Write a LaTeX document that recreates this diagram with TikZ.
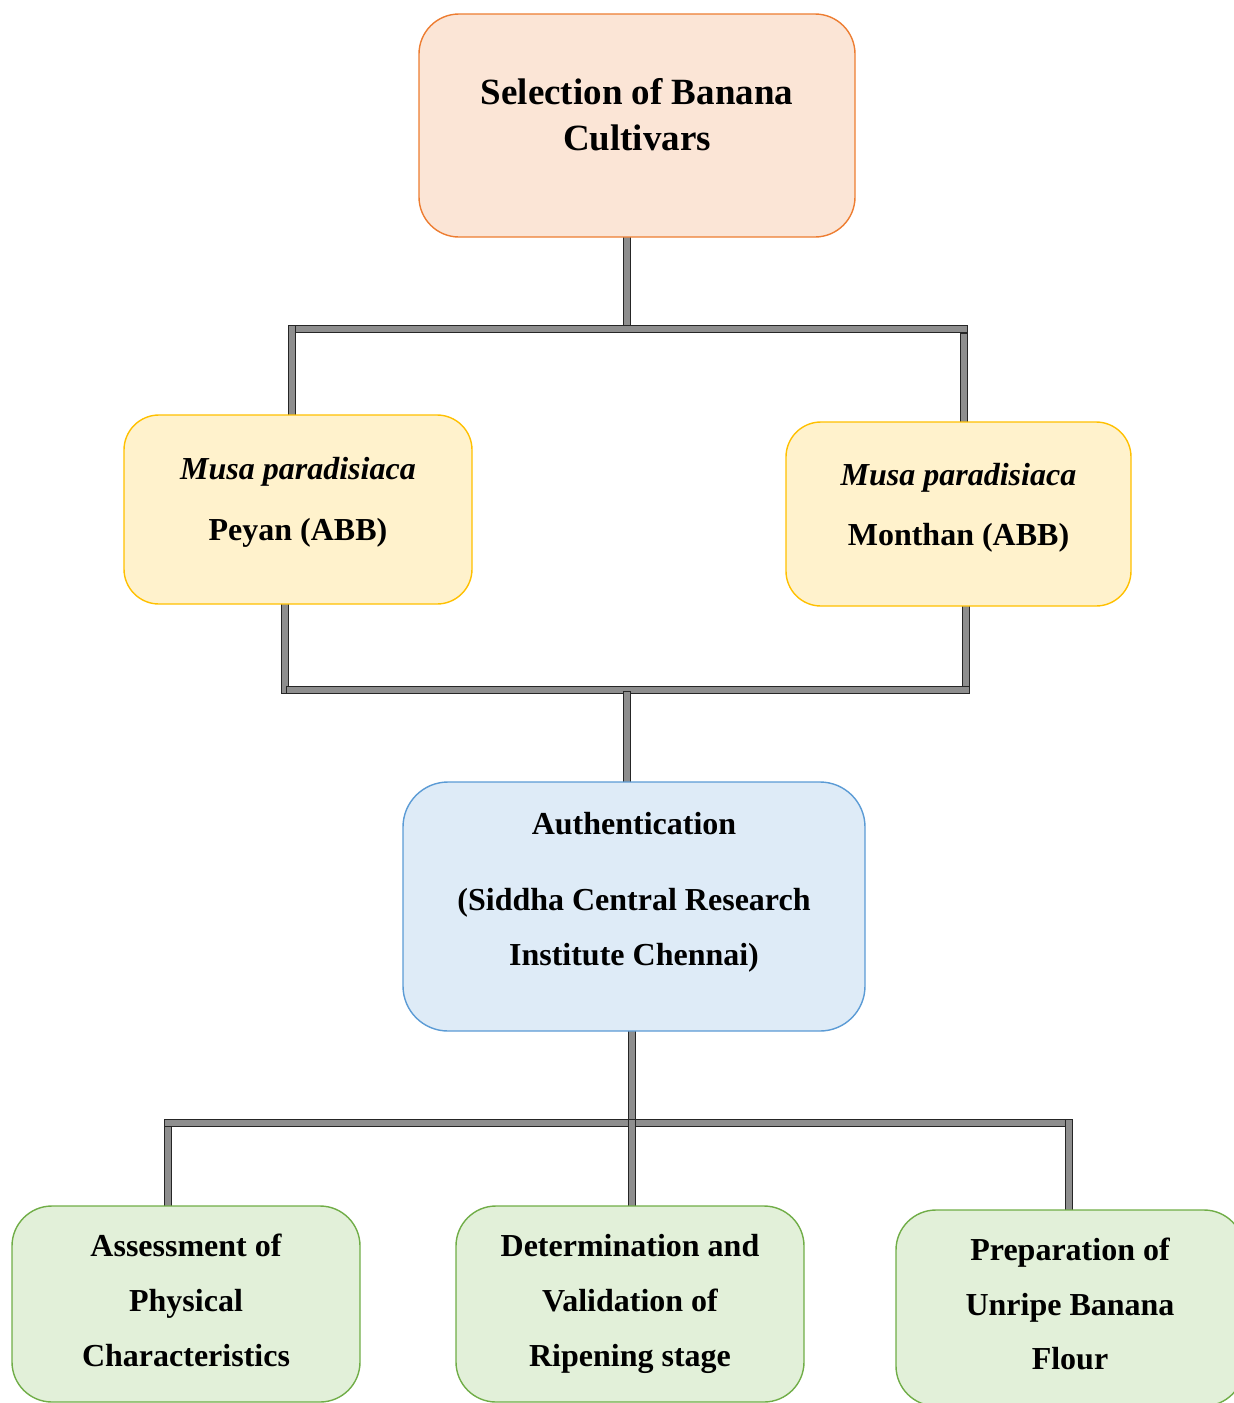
\documentclass[tikz,border=0pt]{standalone}
\usepackage{fontspec}
\setmainfont{Liberation Serif}
\usetikzlibrary{backgrounds}

\definecolor{selfill}{HTML}{FBE5D6}
\definecolor{seldraw}{HTML}{ED7D31}
\definecolor{cvfill}{HTML}{FFF2CC}
\definecolor{cvdraw}{HTML}{FFC000}
\definecolor{aufill}{HTML}{DEEBF7}
\definecolor{audraw}{HTML}{5B9BD5}
\definecolor{stfill}{HTML}{E2F0D9}
\definecolor{stdraw}{HTML}{70AD47}
\definecolor{barfill}{HTML}{8E8E8E}

\tikzset{
  box/.style={rectangle, line width=1.4pt, inner sep=0pt},
  selbox/.style={box, fill=selfill, draw=seldraw, rounded corners=40pt},
  cvbox/.style={box, fill=cvfill, draw=cvdraw, rounded corners=35pt},
  aubox/.style={box, fill=aufill, draw=audraw, rounded corners=45pt},
  stbox/.style={box, fill=stfill, draw=stdraw, rounded corners=40pt},
  txt/.style={anchor=base, inner sep=0pt, font=\fontsize{32}{38}\selectfont\bfseries},
  bigtxt/.style={anchor=base, inner sep=0pt, font=\fontsize{37}{44}\selectfont\bfseries},
  bar/.style={draw=black!85, line width=1.2pt, double=barfill, double distance=5.6pt, line cap=rect},
}

\begin{document}
\begin{tikzpicture}[x=1pt, y=-1pt]
\useasboundingbox (0,0) rectangle (1234,1403);
\clip (0,0) rectangle (1234,1403);

% boxes
\node[selbox, minimum width=436pt, minimum height=223pt] (sel) at (637,125.5) {};
\node[cvbox, minimum width=348pt, minimum height=189pt] (peyan) at (298,509.5) {};
\node[cvbox, minimum width=345pt, minimum height=184pt] (monthan) at (958.5,514) {};
\node[aubox, minimum width=462pt, minimum height=249pt] (auth) at (634,906.5) {};
\node[stbox, minimum width=348pt, minimum height=196pt] (assess) at (186,1304) {};
\node[stbox, minimum width=348pt, minimum height=196pt] (determ) at (630,1304) {};
\node[stbox, minimum width=348pt, minimum height=196pt] (prep) at (1070,1308) {};

% box texts
\node[bigtxt] (sel1) at (637,104) {Selection of Banana};
\node[bigtxt] (sel2) at (637,150) {Cultivars};

\node[txt] (pe1) at (298,479) {\itshape Musa paradisiaca};
\node[txt] (pe2) at (298,540) {Peyan (ABB)};

\node[txt] (mo1) at (958.5,485) {\itshape Musa paradisiaca};
\node[txt] (mo2) at (958.5,545) {Monthan (ABB)};

\node[txt] (au1) at (634,834) {Authentication};
\node[txt] (au2) at (634,910) {(Siddha Central Research};
\node[txt] (au3) at (634,965) {Institute Chennai)};

\node[txt] (as1) at (186,1256) {Assessment of};
\node[txt] (as2) at (186,1311) {Physical};
\node[txt] (as3) at (186,1366) {Characteristics};

\node[txt] (de1) at (630,1256) {Determination and};
\node[txt] (de2) at (630,1311) {Validation of};
\node[txt] (de3) at (630,1366) {Ripening stage};

\node[txt] (pr1) at (1070,1260) {Preparation of};
\node[txt] (pr2) at (1070,1315) {Unripe Banana};
\node[txt] (pr3) at (1070,1369) {Flour};

% junction points of the connector bars
\coordinate (h1l) at (292,329);
\coordinate (h1m) at (627,329);
\coordinate (h1r) at (964,329);
\coordinate (h1rd) at (964,337);

\coordinate (h2s) at (285,690);
\coordinate (h2l) at (290,690);
\coordinate (h2m) at (627,695);
\coordinate (h2r) at (966,690);

\coordinate (h3l) at (168,1123);
\coordinate (h3ld) at (168,1130);
\coordinate (h3m) at (632,1123);
\coordinate (h3r) at (1069,1123);

% connector bars, behind the boxes
\begin{pgfonlayer}{background}
  \draw[bar] (sel.south -| h1m) -- (h1m);
  \draw[bar] (h1l) -- (h1r);
  \draw[bar] (h1l) -- (h1l |- peyan.north);
  \draw[bar] (h1rd) -- (h1rd |- monthan.north);

  \draw[bar] (peyan.south -| h2s) -- (h2s);
  \draw[bar] (monthan.south -| h2r) -- (h2r);
  \draw[bar] (h2l) -- (h2r);
  \draw[bar] (h2m) -- (h2m |- auth.north);

  \draw[bar] (auth.south -| h3m) -- (h3m);
  \draw[bar] (h3l) -- (h3r);
  \draw[bar] (h3ld) -- (h3ld |- assess.north);
  \draw[bar] (h3m) -- (h3m |- determ.north);
  \draw[bar] (h3r) -- (h3r |- prep.north);
\end{pgfonlayer}
\end{tikzpicture}
\end{document}
